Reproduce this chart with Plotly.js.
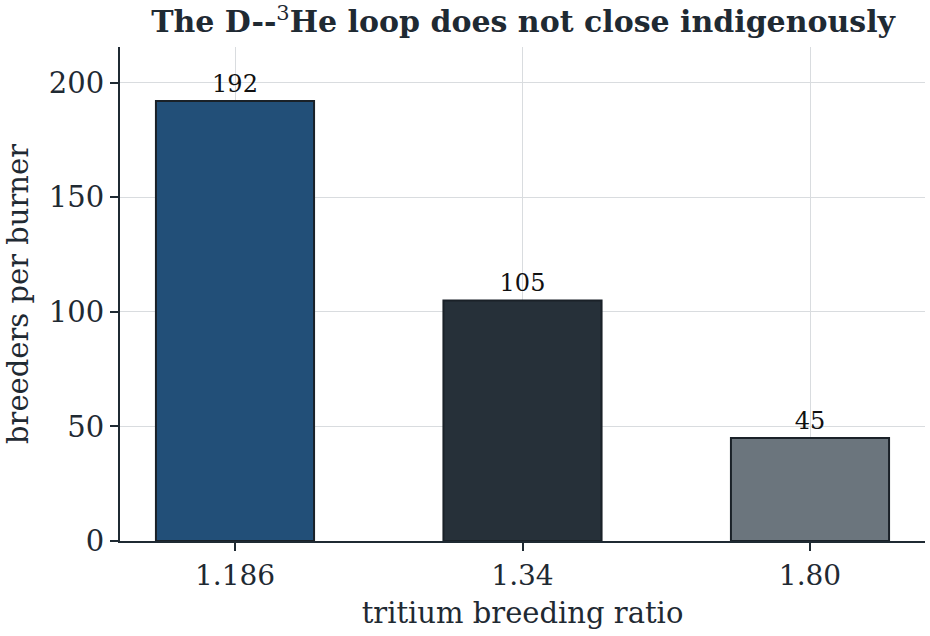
<!DOCTYPE html>
<html>
<head>
<meta charset="utf-8">
<script src="https://cdn.plot.ly/plotly-3.0.1.min.js"></script>
<style>
  html, body { margin: 0; padding: 0; background: #fff; }
  #chart { width: 930px; height: 636px; }
</style>
</head>
<body>
<div id="chart"></div>
<script>
// tritium breeding ratio -> breeders needed per burner
const ratios = ["1.186", "1.34", "1.80"];
const breeders = [192, 105, 45];
const barColors = ["#224f78", "#263039", "#6b757d"];

const FONT = "DejaVu Serif, Liberation Serif, serif";
const INK = "#1f2a33";

const traces = [{
  type: "bar",
  x: ratios,
  y: breeders,
  width: 0.55,
  marker: { color: barColors, line: { color: "#1a2128", width: 2 } },
  text: breeders.map(String),
  textposition: "outside",
  textfont: { family: FONT, size: 24, color: "#111" },
  cliponaxis: false,
  hoverinfo: "skip"
}];

const layout = {
  width: 930,
  height: 636,
  margin: { l: 120, r: 5, t: 47, b: 95 },
  paper_bgcolor: "#fff",
  plot_bgcolor: "#fff",
  font: { family: FONT, size: 28, color: INK },
  title: {
    text: "<b>The D--</b><sup>3</sup><b>He loop does not close indigenously</b>",
    font: { family: FONT, size: 30, color: INK },
    x: 0.5625, xanchor: "center", y: 0.966, yanchor: "middle"
  },
  xaxis: {
    type: "category",
    range: [-0.4, 2.4],
    title: { text: "tritium breeding ratio", font: { size: 29 }, standoff: 12 },
    tickfont: { size: 28 },
    ticks: "outside", ticklen: 8, tickwidth: 2, tickcolor: INK,
    showline: true, linecolor: INK, linewidth: 2,
    showgrid: true, gridcolor: "#d9dcdf", gridwidth: 1,
    zeroline: false
  },
  yaxis: {
    range: [0, 215.6],
    tickvals: [0, 50, 100, 150, 200],
    title: { text: "breeders per burner", font: { size: 29 }, standoff: 12 },
    tickfont: { size: 29 },
    ticks: "outside", ticklen: 8, tickwidth: 2, tickcolor: INK,
    showline: true, linecolor: INK, linewidth: 2,
    showgrid: true, gridcolor: "#d9dcdf", gridwidth: 1,
    zeroline: false
  },
  showlegend: false,
  bargap: 0.45
};

Plotly.newPlot("chart", traces, layout, { displayModeBar: false, staticPlot: true });
</script>
</body>
</html>
